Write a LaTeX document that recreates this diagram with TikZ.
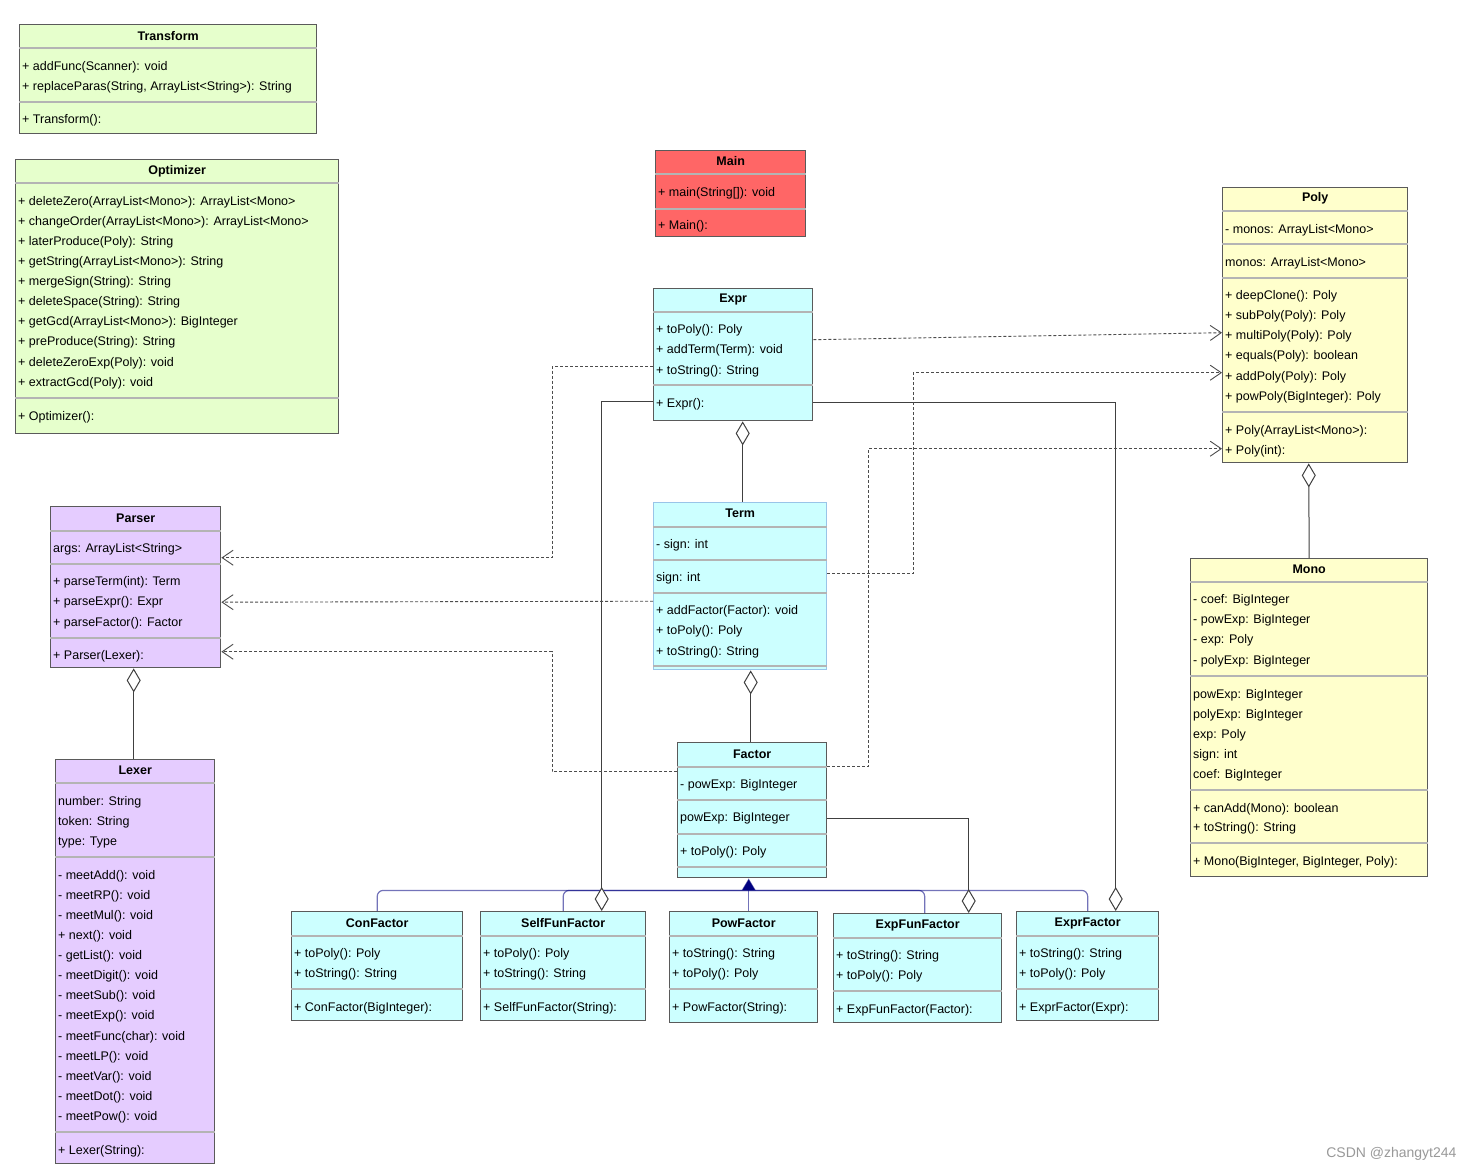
\documentclass[tikz,border=0pt]{standalone}
\usepackage{fontspec}
\setmainfont{Liberation Sans}
\usetikzlibrary{arrows.meta}
\definecolor{umlgreen}{HTML}{E6FFCC}
\definecolor{umlred}{HTML}{FF6666}
\definecolor{umlcyan}{HTML}{CCFFFF}
\definecolor{umlyellow}{HTML}{FFFFCC}
\definecolor{umlpurple}{HTML}{E5CCFF}
\definecolor{umlborder}{HTML}{5A5A5A}
\definecolor{umlsep}{HTML}{B4B4B4}
\definecolor{umlblue}{HTML}{99C4E8}
\definecolor{umlnavy}{HTML}{000080}
\begin{document}
\begin{tikzpicture}[x=1pt,y=-1pt,
  cls/.style={draw=umlborder,line width=1.4pt,anchor=north west,inner sep=0pt},
  hdr/.style={font=\fontsize{12.5}{15}\selectfont\bfseries,inner sep=0pt,yshift=-1pt},
  mbr/.style={font=\fontsize{12.5}{15}\selectfont,anchor=west,inner sep=0pt,yshift=-2pt},
  sep/.style={draw=umlsep,line width=1.2pt},
  dep/.style={draw=black!70,dash pattern=on 3pt off 2pt,line width=0.9pt,
    -{Straight Barb[length=11pt,width=15pt]}},
  agg/.style={draw=black!75,line width=1pt,
    {Diamond[length=24pt,width=14pt,fill=white,line width=1pt]}-},
  inh/.style={draw=umlnavy,draw opacity=0.55,line width=1.2pt,rounded corners=6pt}]
  \fill[white] (0,0) rectangle (1475,1172);
  \useasboundingbox (0,0) rectangle (1475,1172);

  % Transform
  \node[cls,fill=umlgreen,minimum width=297pt,minimum height=109pt] (transform) at (19,24) {};
  \node[hdr] (transform-h) at ([yshift=-11pt]transform.north) {Transform};
  \foreach \y in {48,102}
    \draw[sep] (transform.west |- 0,\y) -- (transform.east |- 0,\y);
  \foreach \t [count=\i] in {{+ addFunc(Scanner): void},
      {+ replaceParas(String, ArrayList<String>): String}}
    \node[mbr] (transform-m\i) at (22,{45+20*\i}) {\t};
  \node[mbr] (transform-c) at (22,118) {+ Transform():};

  % Optimizer
  \node[cls,fill=umlgreen,minimum width=323pt,minimum height=274pt] (optimizer) at (15,159) {};
  \node[hdr] (optimizer-h) at ([yshift=-11pt]optimizer.north) {Optimizer};
  \foreach \y in {183,398}
    \draw[sep] (optimizer.west |- 0,\y) -- (optimizer.east |- 0,\y);
  \foreach \t [count=\i] in {{+ deleteZero(ArrayList<Mono>): ArrayList<Mono>},
      {+ changeOrder(ArrayList<Mono>): ArrayList<Mono>},
      {+ laterProduce(Poly): String},
      {+ getString(ArrayList<Mono>): String},
      {+ mergeSign(String): String},
      {+ deleteSpace(String): String},
      {+ getGcd(ArrayList<Mono>): BigInteger},
      {+ preProduce(String): String},
      {+ deleteZeroExp(Poly): void},
      {+ extractGcd(Poly): void}}
    \node[mbr] (optimizer-m\i) at (18,{179.9+20.1*\i}) {\t};
  \node[mbr] (optimizer-c) at (18,415) {+ Optimizer():};

  % Main
  \node[cls,fill=umlred,minimum width=150pt,minimum height=86pt] (main) at (655,150) {};
  \node[hdr] (main-h) at ([yshift=-10pt]main.north) {Main};
  \foreach \y in {174,209}
    \draw[sep] (main.west |- 0,\y) -- (main.east |- 0,\y);
  \node[mbr] (main-m1) at (658,191) {+ main(String[]): void};
  \node[mbr] (main-c) at (658,224) {+ Main():};

  % Expr
  \node[cls,fill=umlcyan,minimum width=159pt,minimum height=132pt] (expr) at (653,288) {};
  \node[hdr] (expr-h) at ([yshift=-10pt]expr.north) {Expr};
  \foreach \y in {312,385}
    \draw[sep] (expr.west |- 0,\y) -- (expr.east |- 0,\y);
  \foreach \t [count=\i] in {{+ toPoly(): Poly},{+ addTerm(Term): void},{+ toString(): String}}
    \node[mbr] (expr-m\i) at (656,{307.5+20.5*\i}) {\t};
  \node[mbr] (expr-c) at (656,402) {+ Expr():};

  % Term
  \node[cls,draw=umlblue,fill=umlcyan,minimum width=173pt,minimum height=167pt] (term) at (653,502) {};
  \node[hdr] (term-h) at ([yshift=-10pt]term.north) {Term};
  \foreach \y in {527,560,593,666}
    \draw[sep] (term.west |- 0,\y) -- (term.east |- 0,\y);
  \node[mbr] (term-a1) at (656,543) {- sign: int};
  \node[mbr] (term-a2) at (656,576) {sign: int};
  \foreach \t [count=\i] in {{+ addFactor(Factor): void},{+ toPoly(): Poly},{+ toString(): String}}
    \node[mbr] (term-m\i) at (656,{588.5+20.5*\i}) {\t};

  % Factor
  \node[cls,fill=umlcyan,minimum width=149pt,minimum height=135pt] (factor) at (677,742) {};
  \node[hdr] (factor-h) at ([yshift=-11pt]factor.north) {Factor};
  \foreach \y in {767,800,834,867}
    \draw[sep] (factor.west |- 0,\y) -- (factor.east |- 0,\y);
  \node[mbr] (factor-a1) at (680,783) {- powExp: BigInteger};
  \node[mbr] (factor-a2) at (680,816) {powExp: BigInteger};
  \node[mbr] (factor-m1) at (680,850) {+ toPoly(): Poly};

  % Poly
  \node[cls,fill=umlyellow,minimum width=185pt,minimum height=275pt] (poly) at (1222,187) {};
  \node[hdr] (poly-h) at ([yshift=-10pt]poly.north) {Poly};
  \foreach \y in {211,244,278,412}
    \draw[sep] (poly.west |- 0,\y) -- (poly.east |- 0,\y);
  \node[mbr] (poly-a1) at (1225,228) {- monos: ArrayList<Mono>};
  \node[mbr] (poly-a2) at (1225,261) {monos: ArrayList<Mono>};
  \foreach \t [count=\i] in {{+ deepClone(): Poly},{+ subPoly(Poly): Poly},
      {+ multiPoly(Poly): Poly},{+ equals(Poly): boolean},
      {+ addPoly(Poly): Poly},{+ powPoly(BigInteger): Poly}}
    \node[mbr] (poly-m\i) at (1225,{273.8+20.2*\i}) {\t};
  \node[mbr] (poly-c1) at (1225,429) {+ Poly(ArrayList<Mono>):};
  \node[mbr] (poly-c2) at (1225,449) {+ Poly(int):};

  % Mono
  \node[cls,fill=umlyellow,minimum width=237pt,minimum height=318pt] (mono) at (1190,558) {};
  \node[hdr] (mono-h) at ([yshift=-10pt]mono.north) {Mono};
  \foreach \y in {582,676,790,843}
    \draw[sep] (mono.west |- 0,\y) -- (mono.east |- 0,\y);
  \foreach \t [count=\i] in {{- coef: BigInteger},{- powExp: BigInteger},
      {- exp: Poly},{- polyExp: BigInteger}}
    \node[mbr] (mono-a\i) at (1193,{577.7+20.3*\i}) {\t};
  \foreach \t [count=\i] in {{powExp: BigInteger},{polyExp: BigInteger},
      {exp: Poly},{sign: int},{coef: BigInteger}}
    \node[mbr] (mono-g\i) at (1193,{673+20*\i}) {\t};
  \node[mbr] (mono-m1) at (1193,807) {+ canAdd(Mono): boolean};
  \node[mbr] (mono-m2) at (1193,826) {+ toString(): String};
  \node[mbr] (mono-c) at (1193,860) {+ Mono(BigInteger, BigInteger, Poly):};

  % Parser
  \node[cls,fill=umlpurple,minimum width=170pt,minimum height=161pt] (parser) at (50,506) {};
  \node[hdr] (parser-h) at ([yshift=-11pt]parser.north) {Parser};
  \foreach \y in {531,564,638}
    \draw[sep] (parser.west |- 0,\y) -- (parser.east |- 0,\y);
  \node[mbr] (parser-a1) at (53,547) {args: ArrayList<String>};
  \foreach \t [count=\i] in {{+ parseTerm(int): Term},{+ parseExpr(): Expr},{+ parseFactor(): Factor}}
    \node[mbr] (parser-m\i) at (53,{559.5+20.5*\i}) {\t};
  \node[mbr] (parser-c) at (53,654) {+ Parser(Lexer):};

  % Lexer
  \node[cls,fill=umlpurple,minimum width=159pt,minimum height=404pt] (lexer) at (55,759) {};
  \node[hdr] (lexer-h) at ([yshift=-10pt]lexer.north) {Lexer};
  \foreach \y in {783,857,1132}
    \draw[sep] (lexer.west |- 0,\y) -- (lexer.east |- 0,\y);
  \foreach \t [count=\i] in {{number: String},{token: String},{type: Type}}
    \node[mbr] (lexer-a\i) at (58,{780+20*\i}) {\t};
  \foreach \t [count=\i] in {{- meetAdd(): void},{- meetRP(): void},{- meetMul(): void},
      {+ next(): void},{- getList(): void},{- meetDigit(): void},{- meetSub(): void},
      {- meetExp(): void},{- meetFunc(char): void},{- meetLP(): void},
      {- meetVar(): void},{- meetDot(): void},{- meetPow(): void}}
    \node[mbr] (lexer-m\i) at (58,{853.9+20.1*\i}) {\t};
  \node[mbr] (lexer-c) at (58,1149) {+ Lexer(String):};

  % ConFactor
  \node[cls,fill=umlcyan,minimum width=171pt,minimum height=109pt] (confactor) at (291,911) {};
  \node[hdr] (confactor-h) at ([yshift=-11pt]confactor.north) {ConFactor};
  \foreach \y in {936,989}
    \draw[sep] (confactor.west |- 0,\y) -- (confactor.east |- 0,\y);
  \node[mbr] (confactor-m1) at (294,952) {+ toPoly(): Poly};
  \node[mbr] (confactor-m2) at (294,972) {+ toString(): String};
  \node[mbr] (confactor-c) at (294,1006) {+ ConFactor(BigInteger):};

  % SelfFunFactor
  \node[cls,fill=umlcyan,minimum width=165pt,minimum height=109pt] (selffunfactor) at (480,911) {};
  \node[hdr] (selffunfactor-h) at ([yshift=-11pt]selffunfactor.north) {SelfFunFactor};
  \foreach \y in {936,989}
    \draw[sep] (selffunfactor.west |- 0,\y) -- (selffunfactor.east |- 0,\y);
  \node[mbr] (selffunfactor-m1) at (483,952) {+ toPoly(): Poly};
  \node[mbr] (selffunfactor-m2) at (483,972) {+ toString(): String};
  \node[mbr] (selffunfactor-c) at (483,1006) {+ SelfFunFactor(String):};

  % PowFactor
  \node[cls,fill=umlcyan,minimum width=148pt,minimum height=111pt] (powfactor) at (669,911) {};
  \node[hdr] (powfactor-h) at ([yshift=-11pt]powfactor.north) {PowFactor};
  \foreach \y in {936,989}
    \draw[sep] (powfactor.west |- 0,\y) -- (powfactor.east |- 0,\y);
  \node[mbr] (powfactor-m1) at (672,952) {+ toString(): String};
  \node[mbr] (powfactor-m2) at (672,972) {+ toPoly(): Poly};
  \node[mbr] (powfactor-c) at (672,1006) {+ PowFactor(String):};

  % ExpFunFactor
  \node[cls,fill=umlcyan,minimum width=168pt,minimum height=109pt] (expfunfactor) at (833,913) {};
  \node[hdr] (expfunfactor-h) at ([yshift=-11pt]expfunfactor.north) {ExpFunFactor};
  \foreach \y in {938,991}
    \draw[sep] (expfunfactor.west |- 0,\y) -- (expfunfactor.east |- 0,\y);
  \node[mbr] (expfunfactor-m1) at (836,954) {+ toString(): String};
  \node[mbr] (expfunfactor-m2) at (836,974) {+ toPoly(): Poly};
  \node[mbr] (expfunfactor-c) at (836,1008) {+ ExpFunFactor(Factor):};

  % ExprFactor
  \node[cls,fill=umlcyan,minimum width=142pt,minimum height=109pt] (exprfactor) at (1016,911) {};
  \node[hdr] (exprfactor-h) at ([yshift=-11pt]exprfactor.north) {ExprFactor};
  \foreach \y in {936,989}
    \draw[sep] (exprfactor.west |- 0,\y) -- (exprfactor.east |- 0,\y);
  \node[mbr] (exprfactor-m1) at (1019,952) {+ toString(): String};
  \node[mbr] (exprfactor-m2) at (1019,972) {+ toPoly(): Poly};
  \node[mbr] (exprfactor-c) at (1019,1006) {+ ExprFactor(Expr):};

  % inheritance
  \draw[inh] (confactor.north) |- ([xshift=-3.5pt,yshift=-12pt]factor.south);
  \draw[inh] (selffunfactor.north) |- ([xshift=-3.5pt,yshift=-12pt]factor.south);
  \draw[inh] ([xshift=7pt]expfunfactor.north) |- ([xshift=-3.5pt,yshift=-12pt]factor.south);
  \draw[inh] (exprfactor.north) |- ([xshift=-3.5pt,yshift=-12pt]factor.south);
  \draw[inh,-{Triangle[length=12pt,width=14pt,fill=umlnavy]}]
    ([xshift=5pt]powfactor.north) -- ([xshift=-3.5pt]factor.south);

  % aggregation
  \draw[agg] ([xshift=9.5pt]expr.south) -- ([xshift=2.5pt]term.north);
  \draw[agg] ([xshift=10.5pt]term.south) -- ([xshift=-1.5pt]factor.north);
  \draw[agg] ([xshift=-6.5pt]poly.south) -- (mono.north);
  \draw[agg] ([xshift=-2pt]parser.south) -- ([xshift=-1.5pt]lexer.north);
  \draw[agg] ([xshift=38.5pt]selffunfactor.north) |- ([yshift=-47pt]expr.west);
  \draw[agg] ([xshift=51pt]expfunfactor.north) |- ([yshift=-8.5pt]factor.east);
  \draw[agg] ([xshift=28pt]exprfactor.north) |- ([yshift=-48pt]expr.east);

  % dependency
  \draw[dep] ([yshift=15pt]expr.east) -- ([yshift=-7.5pt]poly.west);
  \draw[dep] ([yshift=12.5pt]term.east) -- ++(86,0) |- ([yshift=-47.5pt]poly.west);
  \draw[dep] ([yshift=43.5pt]factor.east) -- ++(41,0) |- ([yshift=-123.5pt]poly.west);
  \draw[dep] ([yshift=-12pt]expr.west) -- ++(-101,0) |- ([yshift=29.5pt]parser.east);
  \draw[dep] ([yshift=-15pt]term.west) -- ([yshift=-15pt]parser.east);
  \draw[dep] ([yshift=38.5pt]factor.west) -- ++(-125,0) |- ([yshift=-64.5pt]parser.east);

  \node[font=\fontsize{14}{16}\selectfont,text=black!40,anchor=east] (mark) at (1460,1154) {CSDN @zhangyt244};
\end{tikzpicture}
\end{document}
